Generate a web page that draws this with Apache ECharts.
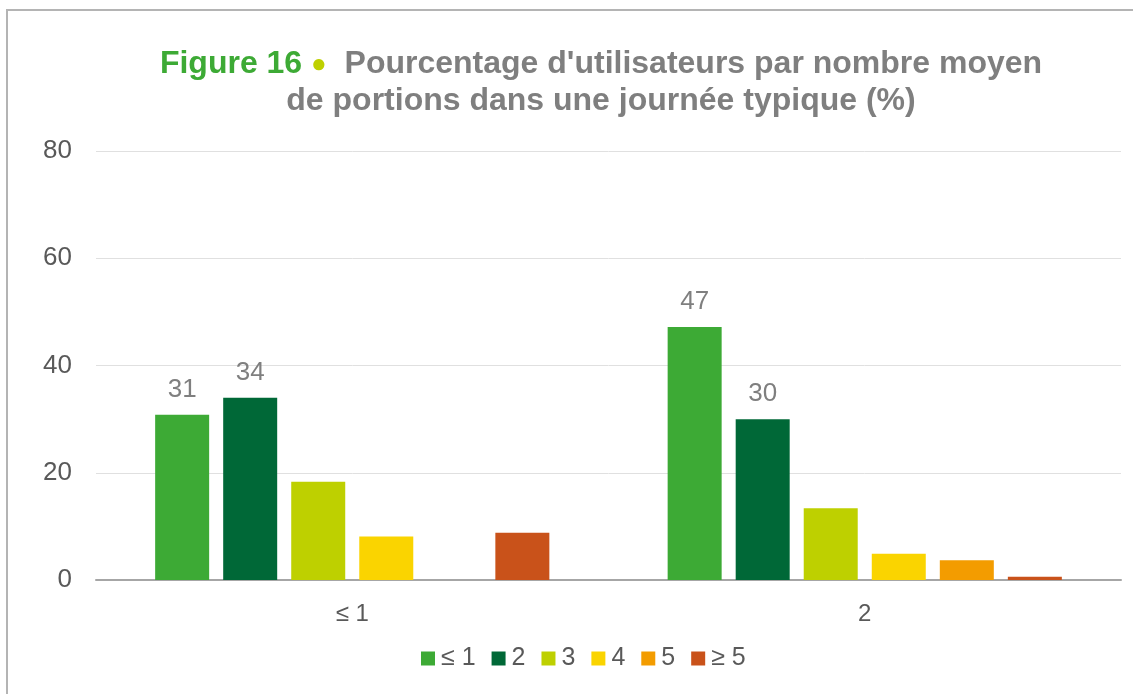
<!DOCTYPE html>
<html>
<head>
<meta charset="utf-8">
<script src="https://cdn.jsdelivr.net/npm/echarts@6/dist/echarts.min.js"></script>
<style>
  html, body { margin: 0; padding: 0; background: #fff; overflow: hidden; }
  #frame { position: absolute; left: 6px; top: 9px; width: 1150px; height: 720px; border: 2px solid #b4b4b4; }
  #main { position: absolute; left: 0; top: 0; width: 1133px; height: 694px; }
</style>
</head>
<body>
<div id="frame"></div>
<div id="main"></div>
<script>
var categories = ['≤ 1', '2'];
var seriesNames = ['≤ 1', '2', '3', '4', '5', '≥ 5'];
var colors = ['#3daa35', '#006837', '#bed000', '#fad400', '#f39c00', '#c9521a'];
var valLe1 = [30.8, 47.2];
var val2 = [34.0, 30.0];
var val3 = [18.3, 13.4];
var val4 = [8.1, 4.9];
var val5 = [null, 3.7];
var valGe5 = [8.8, 0.6];
var yTicks = [0, 20, 40, 60, 80];

var allValues = [valLe1, val2, val3, val4, val5, valGe5];
var labelled = [true, true, false, false, false, false];

var myChart = echarts.init(document.getElementById('main'));
var series = [];
for (var i = 0; i < seriesNames.length; i++) {
  series.push({
    name: seriesNames[i],
    type: 'bar',
    data: allValues[i],
    barWidth: 54,
    barGap: '26%',
    itemStyle: { color: colors[i] },
    label: {
      show: labelled[i],
      position: 'top',
      distance: 12,
      color: '#7f7f7f',
      fontSize: 26,
      fontFamily: 'Liberation Sans',
      formatter: function (p) { return Math.round(p.value); }
    }
  });
}

var option = {
  animation: false,
  title: {
    left: 601,
    textAlign: 'center',
    top: 46,
    padding: 0,
    text: '{g|Figure 16} {b|●}  {t|Pourcentage d\'utilisateurs par nombre moyen}\n{t|de portions dans une journée typique (%)}',
    textStyle: {
      fontFamily: 'Liberation Sans',
      fontSize: 32,
      fontWeight: 'bold',
      lineHeight: 37,
      rich: {
        g: { color: '#3daa35', fontSize: 32, fontWeight: 'bold', fontFamily: 'Liberation Sans', lineHeight: 37 },
        b: { color: '#bed000', fontSize: 26, fontFamily: 'Liberation Sans', lineHeight: 37 },
        t: { color: '#7f7f7f', fontSize: 32, fontWeight: 'bold', fontFamily: 'Liberation Sans', lineHeight: 37 }
      }
    }
  },
  legend: {
    left: 421,
    top: 646,
    padding: 0,
    icon: 'rect',
    itemWidth: 14,
    itemHeight: 14,
    itemGap: 16,
    textStyle: { color: '#595959', fontSize: 25, fontFamily: 'Liberation Sans', padding: [0, 0, 0, 1] },
    data: seriesNames
  },
  grid: { left: 96, right: 12, top: 151, bottom: 114, containLabel: false },
  xAxis: {
    type: 'category',
    data: categories,
    axisLine: { lineStyle: { color: '#a6a6a6', width: 2 } },
    axisTick: { show: false },
    axisLabel: { color: '#595959', fontSize: 24, fontFamily: 'Liberation Sans', margin: 22 }
  },
  yAxis: {
    type: 'value',
    min: yTicks[0],
    max: yTicks[yTicks.length - 1],
    interval: 20,
    axisLine: { show: false },
    axisTick: { show: false },
    splitLine: { lineStyle: { color: '#e0e0e0', width: 1 } },
    axisLabel: { color: '#595959', fontSize: 26, fontFamily: 'Liberation Sans', margin: 24 }
  },
  series: series
};
myChart.setOption(option);
</script>
</body>
</html>
